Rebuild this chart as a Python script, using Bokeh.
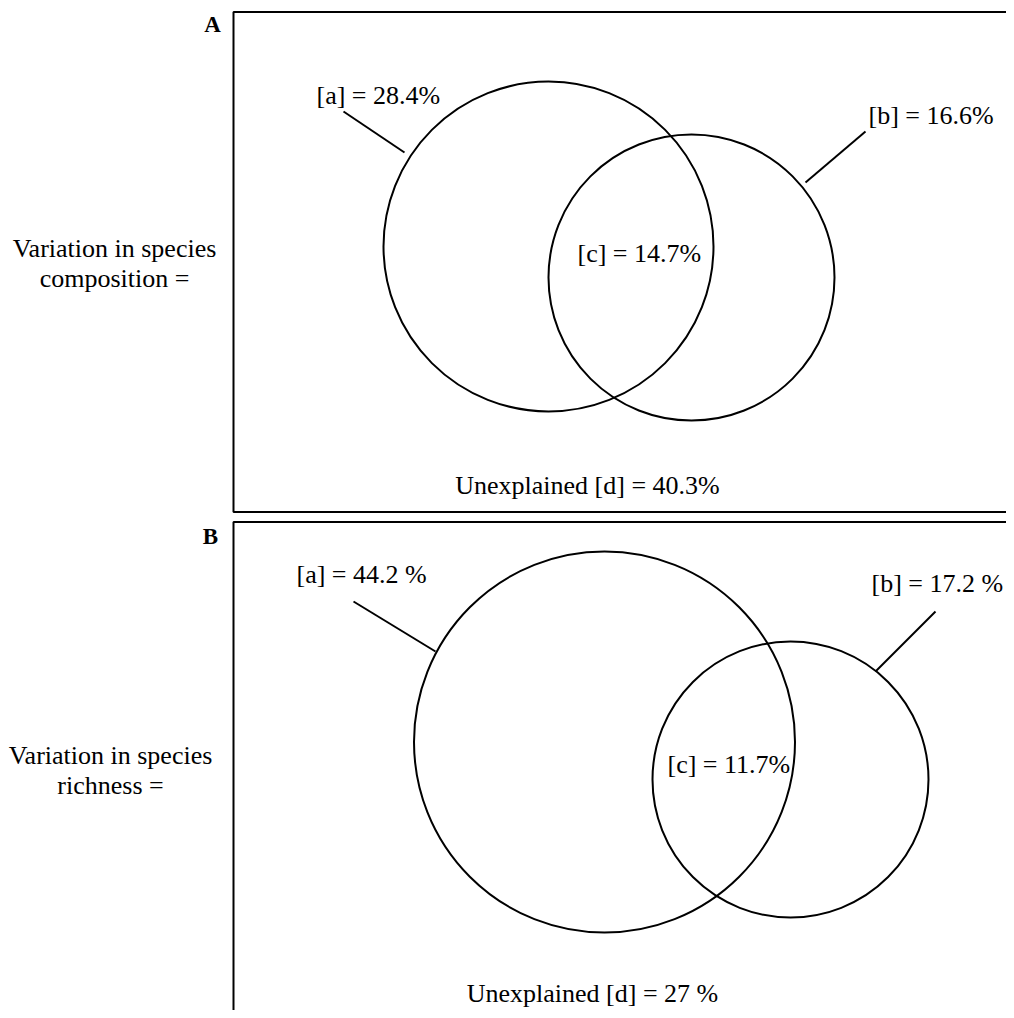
from bokeh.plotting import figure
from bokeh.models import Range1d
from bokeh.core.properties import value
from bokeh.embed import file_html
from bokeh.resources import INLINE

# ---- data ----
panels = ["A", "B"]
responses = ["Variation in species\ncomposition =", "Variation in species\nrichness ="]
frac_a = [28.4, 44.2]
frac_b = [16.6, 17.2]
frac_c = [14.7, 11.7]
frac_d = [40.3, 27.0]
label_a = ["[a] = 28.4%", "[a] = 44.2 %"]
label_b = ["[b] = 16.6%", "[b] = 17.2 %"]
label_c = ["[c] = 14.7%", "[c] = 11.7%"]
label_d = ["Unexplained [d] = 40.3%", "Unexplained [d] = 27 %"]

# ---- layout geometry (page pixels) ----
W, H = 1006, 1010
OFF = 8
FONT = value("Liberation Serif")
FS = "26px"

p = figure(width=W, height=H, x_range=Range1d(OFF, OFF + W), y_range=Range1d(OFF + H, OFF),
           output_backend="svg", toolbar_location=None, min_border=0)
p.axis.visible = False
p.grid.visible = False
p.outline_line_color = None
p.background_fill_color = "white"

S = 8  # shift so the drawing lands on reference pixel coordinates

def X(v):
    return [a + S for a in v] if isinstance(v, list) else v + S

def Y(v):
    return [a + S for a in v] if isinstance(v, list) else v + S

# panel frames
boxA = dict(x0=233, y0=11.5, x1=1030, y1=511.5)
boxB = dict(x0=233, y0=521.5, x1=1030, y1=1030)
p.line(X([boxA["x1"], boxA["x0"], boxA["x0"], boxA["x1"]]),
       Y([boxA["y0"], boxA["y0"], boxA["y1"], boxA["y1"]]), line_color="black", line_width=2)
p.line(X([boxB["x1"], boxB["x0"], boxB["x0"]]),
       Y([boxB["y0"], boxB["y0"], boxB["y1"]]), line_color="black", line_width=2)

# circles: [panel A left, panel A right, panel B left, panel B right]
cx = [548, 691, 604, 790]
cy = [246, 277, 741.5, 779]
cr = [165, 143, 190.5, 138]
p.circle(x=X(cx), y=Y(cy), radius=cr, fill_color=None, line_color="black", line_width=2)

# leader lines
lead_x = [[343, 404], [865, 805], [353, 435], [935, 875]]
lead_y = [[111, 152], [131, 182], [601, 651], [611, 671]]
p.multi_line(xs=[X(v) for v in lead_x], ys=[Y(v) for v in lead_y], line_color="black", line_width=2)

# texts
def txt(x, y, s, align="left", size=FS, style="normal"):
    p.text(x=[X(x)], y=[Y(y)], text=[s], text_font=FONT, text_font_size=size,
           text_align=align, text_baseline="middle", text_color="black",
           text_font_style=style)

txt(212, 24, panels[0], "center", "23px", "bold")
txt(210, 536, panels[1], "center", "23px", "bold")

for i, (yy1, yy2) in enumerate([(248, 278), (755, 785)]):
    l1, l2 = responses[i].split("\n")
    txt(114 if i == 0 else 110, yy1, l1, "center")
    txt(114 if i == 0 else 110, yy2, l2, "center")

txt(316, 95, label_a[0])
txt(868, 115, label_b[0])
txt(577, 253, label_c[0])
txt(587, 485, label_d[0], "center")

txt(296, 574, label_a[1])
txt(871, 583, label_b[1])
txt(667, 764, label_c[1])
txt(592, 993, label_d[1], "center")

open("out.html", "w").write(file_html(p, INLINE))
